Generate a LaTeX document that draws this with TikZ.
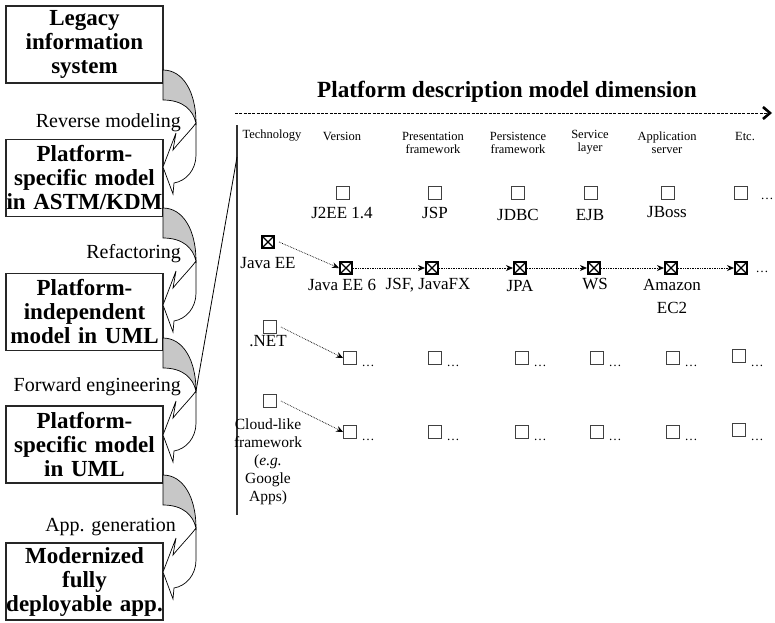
\documentclass[tikz,border=0pt]{standalone}
\usepackage{fontspec}
\setmainfont{Liberation Serif}
\usetikzlibrary{arrows.meta}
\begin{document}
\begin{tikzpicture}[x=1pt,y=-1pt,
  stagebox/.style={draw=black!85, line width=1.1pt, inner sep=0pt, text width=157pt,
    minimum height=77pt, align=center, font=\fontsize{23}{24}\selectfont\bfseries},
  steplabel/.style={anchor=base east, inner sep=0pt, font=\fontsize{20}{22}\selectfont},
  colhead/.style={align=center, inner sep=0pt, font=\fontsize{12.5}{13}\selectfont},
  optlabel/.style={align=center, inner sep=0pt, font=\fontsize{17}{23}\selectfont},
  techlabel/.style={align=center, inner sep=0pt, font=\fontsize{15.5}{18}\selectfont},
  optbox/.style={draw=black!75, line width=0.8pt, minimum size=13pt, inner sep=0pt},
  chosenbox/.style={draw=black, line width=1.6pt, minimum size=12.5pt, inner sep=0pt,
    path picture={\draw[line width=1.3pt]
      (path picture bounding box.north west) -- (path picture bounding box.south east)
      (path picture bounding box.north east) -- (path picture bounding box.south west);}},
  more/.style={inner sep=0pt, font=\fontsize{13}{13}\selectfont},
  choice/.style={densely dotted, line width=0.7pt, -{Stealth[length=7pt,width=6pt]}},
  bendarrow/.pic={
    % back face of the bent band
    \filldraw[fill=black!22, draw=black, line width=0.7pt]
      (0,0) .. controls (20,0) and (33,22) .. (33,53)
      .. controls (30,40) and (20,30) .. (0,30) -- cycle;
    % front face with the arrow head
    \filldraw[fill=white, draw=black, line width=0.7pt]
      (33,53) -- (33,85) .. controls (33,100) and (23,111) .. (11,113)
      -- (10,124) -- (0,97) -- (13,63) -- (10,80)
      .. controls (18,70) and (28,60) .. (33,53) -- cycle;
    \coordinate (-mid) at (33,53);
  }
]
\useasboundingbox (0,0) rectangle (775,622);

% ---------- modernization stages ----------
\node[stagebox] (legacy) at (84.5,44.5) {Legacy\\information\\system};
\node[stagebox] (psmkdm) at (84.5,178) {Platform-\\specific model\\in ASTM/KDM};
\node[stagebox] (pim)    at (84.5,312) {Platform-\\independent\\model in UML};
\node[stagebox] (psmuml) at (84.5,444.5) {Platform-\\specific model\\in UML};
\node[stagebox] (app)    at (84.5,581.5) {Modernized\\fully\\deployable app.};

\pic (a1) at (163,70)  {bendarrow};
\pic (a2) at (163,208) {bendarrow};
\pic (a3) at (163,338) {bendarrow};
\pic (a4) at (163,475) {bendarrow};

\node[steplabel] (l1) at (181,127) {Reverse modeling};
\node[steplabel] (l2) at (181,258) {Refactoring};
\node[steplabel] (l3) at (181,391) {Forward engineering};
\node[steplabel] (l4) at (176,531) {App. generation};

% ---------- platform description model ----------
\node[font=\fontsize{23.2}{25}\selectfont\bfseries, inner sep=0pt] (title) at (507,92)
  {Platform description model dimension};
\coordinate (axisstart) at (235,113);
\coordinate (axisend) at (772,113);
\draw[dash pattern=on 3pt off 1.3pt, line width=0.9pt,
      -{Straight Barb[length=7pt,width=12pt,line width=2.6pt]}] (axisstart) -- (axisend);

\coordinate (vtop) at (237,125);
\coordinate (vbot) at (237,515);
\coordinate (knee) at (237,157);
\draw[black!80, line width=1.1pt] (vtop) -- (vbot);
\draw[line width=0.8pt] (knee) -- (a3-mid);

% column heads
\node[colhead] (hTech) at (272,136) {Technology};
\node[colhead] (hVer)  at (342,136) {Version};
\node[colhead] (hPres) at (433,142.5) {Presentation\\framework};
\node[colhead] (hPers) at (518,142.5) {Persistence\\framework};
\node[colhead] (hServ) at (590,142.5) {Service\\layer};
\node[colhead] (hApp)  at (667,142.5) {Application\\server};
\node[colhead] (hEtc)  at (745,136) {Etc.};

% row: J2EE
\node[optbox] (r1v) at (343,193) {};
\node[optbox] (r1p) at (435,193) {};
\node[optbox] (r1s) at (518,193) {};
\node[optbox] (r1l) at (591,193) {};
\node[optbox] (r1a) at (668,193) {};
\node[optbox] (r1e) at (741,193) {};
\node[more] (r1m) at (767,199) {\dots};
\node[optlabel] (r1vt) at (342,213) {J2EE 1.4};
\node[optlabel] (r1pt) at (435,213) {JSP};
\node[optlabel] (r1st) at (518,215) {JDBC};
\node[optlabel] (r1lt) at (590,215) {EJB};
\node[optlabel] (r1at) at (667,212) {JBoss};

% row: Java EE (chosen path)
\node[chosenbox] (t1) at (268,242) {};
\node[optlabel] (t1t) at (268,263) {Java EE};
\node[chosenbox] (r2v) at (346,268) {};
\node[chosenbox] (r2p) at (432,268) {};
\node[chosenbox] (r2s) at (520,268) {};
\node[chosenbox] (r2l) at (594,268) {};
\node[chosenbox] (r2a) at (671,268) {};
\node[chosenbox] (r2e) at (741,268) {};
\node[more] (r2m) at (762,272) {\dots};
\node[optlabel] (r2vt) at (342,285) {Java EE 6};
\node[optlabel] (r2pt) at (428,285) {JSF, JavaFX};
\node[optlabel] (r2st) at (520,286) {JPA};
\node[optlabel] (r2lt) at (595,284) {WS};
\node[optlabel] (r2at) at (672,296) {Amazon\\EC2};

\draw[choice] ([xshift=4pt]t1.east) -- (r2v.west);
\draw[choice] (r2v.east) -- (r2p.west);
\draw[choice] (r2p.east) -- (r2s.west);
\draw[choice] (r2s.east) -- (r2l.west);
\draw[choice] (r2l.east) -- (r2a.west);
\draw[choice] (r2a.east) -- (r2e.west);

% row: .NET
\node[optbox] (t2) at (270,327) {};
\node[optlabel] (t2t) at (268,341) {.NET};
\foreach \n/\x/\y in {v/350/358, p/435/358, s/522/358, l/597/358, a/673/358, e/739/356}{
  \node[optbox] (r3\n) at (\x,\y) {};
  \node[more] (r3\n m) at (\x+18,366) {\dots};
}
\draw[choice] ([xshift=4pt]t2.east) -- (r3v.west);

% row: cloud-like framework
\node[optbox] (t3) at (270,401) {};
\node[techlabel] (t3t) at (268,462) {Cloud-like\\framework\\(\textit{e.g.}\\Google\\Apps)};
\foreach \n/\x/\y in {v/350/432, p/435/432, s/522/432, l/597/432, a/673/432, e/739/430}{
  \node[optbox] (r4\n) at (\x,\y) {};
  \node[more] (r4\n m) at (\x+18,440) {\dots};
}
\draw[choice] ([xshift=4pt]t3.east) -- (r4v.west);
\end{tikzpicture}
\end{document}
